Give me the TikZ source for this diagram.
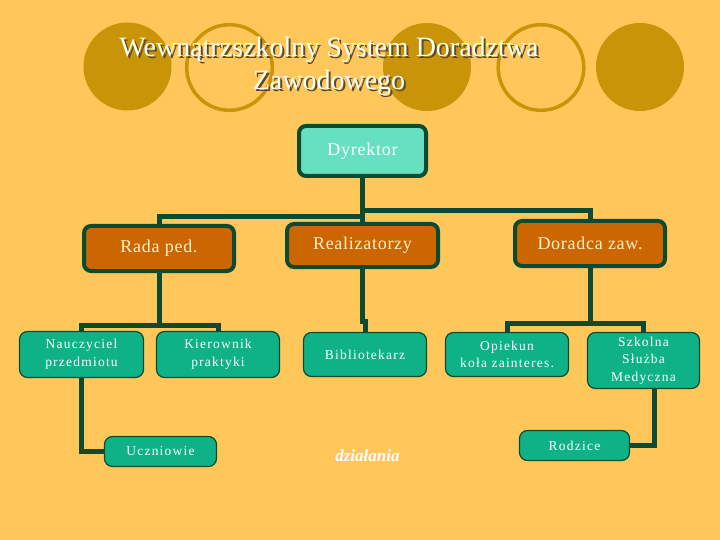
\documentclass[tikz,border=0pt]{standalone}
\usepackage{fontspec}
\setmainfont{Liberation Serif}
\newfontfamily\medfont[LetterSpace=4]{Liberation Serif}
\newfontfamily\smallfont[LetterSpace=9]{Liberation Serif}
\usetikzlibrary{calc}
\definecolor{bgc}{RGB}{255,199,90}
\definecolor{gold}{RGB}{201,148,8}
\definecolor{dkgreen}{RGB}{12,74,50}
\definecolor{dyrc}{RGB}{102,224,192}
\definecolor{orng}{RGB}{204,102,0}
\definecolor{tealc}{RGB}{14,178,134}
\definecolor{creamtxt}{RGB}{255,242,205}
\definecolor{titlec}{RGB}{255,255,236}
\definecolor{shadowc}{RGB}{85,75,55}
\begin{document}
\begin{tikzpicture}[x=1pt,y=-1pt,
  bigbox/.style={draw=dkgreen, line width=4pt, rounded corners=7pt, inner sep=0pt,
    font=\medfont\fontsize{18}{22}\selectfont},
  orangebox/.style={bigbox, fill=orng, text=creamtxt},
  tealbox/.style={draw=dkgreen, line width=1.2pt, fill=tealc, rounded corners=8pt,
    inner sep=0pt, text=white, align=center,
    font=\smallfont\fontsize{13.5}{17.5}\selectfont},
  conn/.style={draw=dkgreen, line width=5pt},
  titletext/.style={font=\fontsize{28}{34}\selectfont, anchor=base, inner sep=0pt}
]
\useasboundingbox (0,0) rectangle (720,540);
\fill[bgc] (0,0) rectangle (720,540);

% decorative circles
\fill[gold] (127.5,66.5) circle[radius=44];
\draw[gold, line width=3.5pt] (229.5,67.5) circle[radius=42.8];
\fill[gold] (427,67) circle[radius=44];
\draw[gold, line width=3.5pt] (541,67.5) circle[radius=42.8];
\fill[gold] (640,67) circle[radius=44];

% title
\node[titletext, text=shadowc] (t1s) at (331,59) {Wewnątrzszkolny System Doradztwa};
\node[titletext, text=titlec] (t1) at (329,57) {Wewnątrzszkolny System Doradztwa};
\node[titletext, text=shadowc] (t2s) at (331,92) {Zawodowego};
\node[titletext, text=titlec] (t2) at (329,90) {Zawodowego};

% boxes
\node[bigbox, fill=dyrc, text=white, minimum width=127pt, minimum height=50pt] (dyr) at (362.5,151) {Dyrektor};
\node[orangebox, minimum width=150pt, minimum height=45pt] (rada) at (159,248.5) {Rada ped.};
\node[orangebox, minimum width=151pt, minimum height=43pt] (real) at (362.5,245.5) {Realizatorzy};
\node[orangebox, minimum width=150pt, minimum height=45pt] (dor) at (590,243.5) {Doradca zaw.};

\node[tealbox, minimum width=124pt, minimum height=46pt] (nau) at (81.5,354.5) {Nauczyciel\\przedmiotu};
\node[tealbox, minimum width=123pt, minimum height=46pt] (kier) at (218,354.5) {Kierownik\\praktyki};
\node[tealbox, minimum width=123pt, minimum height=44pt] (bib) at (365,354.5) {Bibliotekarz};
\node[tealbox, minimum width=123pt, minimum height=44pt] (opi) at (507,354.5) {Opiekun\\koła zainteres.};
\node[tealbox, minimum width=112pt, minimum height=56pt] (szk) at (643.5,360.5) {Szkolna\\Służba\\Medyczna};
\node[tealbox, minimum width=112pt, minimum height=30pt] (ucz) at (160.5,451.5) {Uczniowie};
\node[tealbox, minimum width=110pt, minimum height=30pt] (rodz) at (574.5,445.5) {Rodzice};

\node[font=\bfseries\itshape\fontsize{17}{20}\selectfont, text=white, inner sep=0pt] (dz) at (367.5,456) {działania};

% connectors
\coordinate (jl) at (362.5,217);
\coordinate (jr) at (362.5,211);
\coordinate (rj) at (159,325);
\coordinate (dj) at (590,323);
\draw[conn] (dyr.south) -- (real.north);
\draw[conn] (jl) -| (rada.north);
\draw[conn] (jr) -| (dor.north);
\draw[conn] (rada.south) -- (rj);
\draw[conn] (nau.north) |- (rj) -| (kier.north);
\draw[conn] (real.south) -- ++(0,52) -| (bib.north);
\draw[conn] (dor.south) -- (dj);
\draw[conn] (opi.north) |- (dj) -| (szk.north);
\draw[conn] (nau.south) |- (ucz.west);
\draw[conn] ($(szk.south)+(11,0)$) |- (rodz.east);
\end{tikzpicture}
\end{document}
